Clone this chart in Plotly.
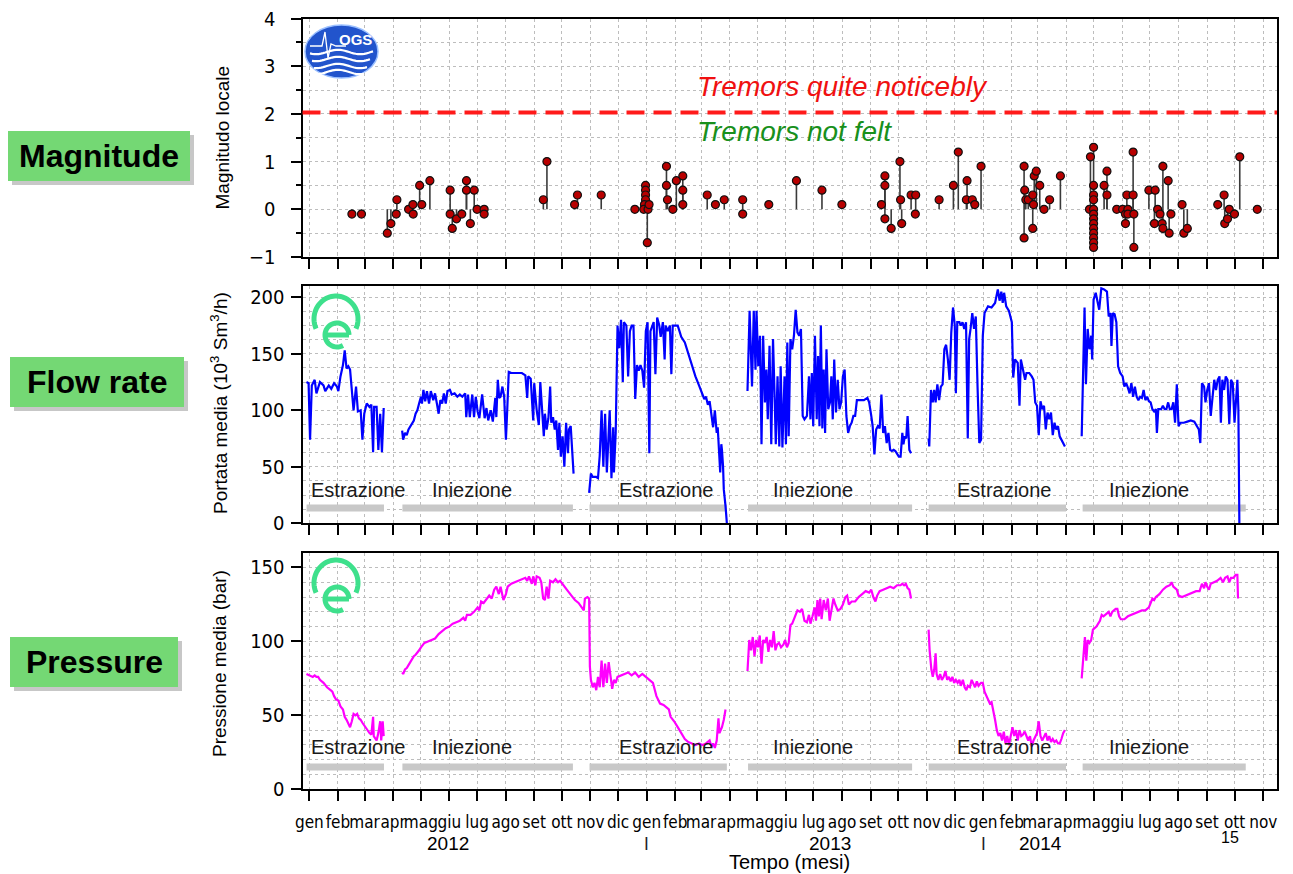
import numpy as np
import pandas as pd
import plotly.graph_objects as go

W, H = 1293, 874
BASE = pd.Timestamp("2012-01-01")
NARROW = "Liberation Sans Narrow, Arial Narrow, DejaVu Sans Condensed, sans-serif"
REG = "Liberation Sans, Arial, Helvetica, sans-serif"

# ---------------- axis labels ----------------
month_names = ["gen", "feb", "mar", "apr", "mag", "giu", "lug", "ago", "set", "ott", "nov", "dic"]
tick_dates = pd.date_range("2012-01-01", "2014-11-01", freq="MS")
tick_text = [month_names[d.month - 1] for d in tick_dates]
year_labels = ["2012", "2013", "2014"]
year_label_day = [150, 565, 793]
year_mark_dates = ["2013-01-01", "2014-01-01"]

# ---------------- magnitude events (days since 2012-01-01, ML) ----------------
mag_day = [46.2, 56.6, 84.6, 88.5, 94.3, 95.0, 107.7, 112.4, 112.7, 119.7, 122.0, 130.8,
           152.8, 152.8, 155.1, 159.7, 165.4, 170.5, 170.5, 174.7, 178.9, 182.0, 189.7, 189.7,
           253.9, 257.8, 287.8, 290.9, 316.7, 353.2, 364.8, 364.8, 364.8, 364.8, 363.6, 362.8,
           367.5, 368.6, 366.7, 387.5, 387.5, 388.6, 394.4, 398.2, 405.2, 405.2, 405.2, 431.7,
           440.6, 450.2, 470.2, 470.2, 498.5, 528.5, 556.2, 577.8, 620.7, 624.5, 624.5, 624.5,
           631.3, 640.8, 641.5, 642.7, 652.9, 657.9, 657.5, 683.3, 698.8, 704.1, 713.6, 712.9,
           719.3, 722.0, 728.8, 775.5, 776.2, 777.4, 775.5, 780.0, 784.9, 785.7, 786.5, 788.7,
           784.9, 792.5, 797.1, 803.2, 814.9, 846.4, 847.5,
           850.9, 850.9, 850.9, 850.9, 850.9, 850.9, 850.9, 850.9, 850.9, 850.9, 850.9, 850.9, 850.9,
           862.3, 865.4, 865.4, 876.0, 882.4, 885.5, 885.5, 887.0, 888.1, 888.1, 893.8, 893.8,
           894.6, 894.6, 910.9, 917.7, 916.9, 920.4, 923.0, 926.1, 925.3, 926.1, 931.8, 932.9,
           934.8, 946.9, 948.8, 952.6, 985.6, 992.5, 993.2, 996.2, 998.1, 1003.8, 1009.5, 1028.5]
mag_val = [-0.1, -0.1, -0.5, -0.3, -0.1, 0.2, 0.0, 0.1, -0.1, 0.5, 0.1, 0.6,
           0.4, -0.1, -0.4, -0.2, -0.1, 0.6, 0.4, -0.3, 0.4, 0.0, 0.0, -0.1,
           0.2, 1.0, 0.1, 0.3, 0.3, 0.0, 0.5, 0.4, 0.3, 0.2, 0.1, 0.0,
           0.0, 0.1, -0.7, 0.9, 0.5, 0.2, 0.0, 0.6, 0.7, 0.4, 0.1, 0.3,
           0.1, 0.2, 0.2, -0.1, 0.1, 0.6, 0.4, 0.1, 0.1, 0.7, 0.5, -0.2,
           -0.4, 1.0, 0.2, -0.3, 0.3, 0.3, -0.1, 0.2, 0.5, 1.2, 0.6, 0.2,
           0.2, 0.1, 0.9, 0.9, 0.4, 0.2, -0.6, 0.2, 0.3, 0.1, 0.7, 0.8,
           -0.4, 0.5, 0.0, 0.2, 0.7, 0.0, 1.1,
           1.3, 0.5, 0.3, 0.2, 0.0, -0.1, -0.2, -0.3, -0.4, -0.5, -0.6, -0.7, -0.8,
           0.5, 0.8, 0.3, 0.0, 0.0, -0.1, -0.3, 0.3, 0.0, -0.1, 1.2, 0.3,
           -0.8, -0.1, 0.4, 0.4, -0.3, 0.0, -0.1, 0.9, -0.3, -0.4, 0.6, -0.5,
           -0.1, 0.1, -0.5, -0.4, 0.1, 0.3, -0.3, -0.2, 0.0, -0.1, 1.1, 0.0]

# ---------------- flow rate (10^3 Sm3/h) ----------------
flow_a_day = [-3.1, -0.8, 0.8, 2.7, 5.8, 7.7, 11.5, 15.4, 17.3, 21.1, 23.8, 26.9, 30.0, 31.5, 33.8,
              36.5, 38.4, 40.4, 42.3, 44.2, 46.1, 48.0, 50.7, 52.7, 55.7, 57.6, 59.6, 62.3, 65.3,
              67.3, 69.2, 70.3, 73.0, 74.9, 76.9, 78.8, 80.7]
flow_a_val = [125, 124, 74, 122, 127, 115, 125, 122, 117, 122, 119, 124, 121, 117, 130, 140, 153, 137,
              139, 136, 118, 100, 121, 99, 100, 74, 97, 106, 103, 105, 63, 103, 103, 65, 97, 63, 102]

flow_b_day = [100.7, 101.8, 103.8, 105.7, 107.6, 109.5, 111.5, 113.4, 115.3, 117.2, 119.1, 121.1, 122.2,
              123.8, 125.7, 127.6, 129.9, 131.8, 134.5, 136.4, 138.4, 140.3, 142.2, 144.1, 146.0, 148.0,
              149.9, 152.6, 154.5, 157.6, 160.6, 163.3, 166.0, 169.1, 170.3, 172.2, 174.1, 176.8, 178.7,
              180.6, 182.6, 184.5, 187.5, 190.2, 192.2, 194.1, 196.8, 199.1, 201.8, 202.9, 204.5, 206.0,
              207.5, 209.5, 211.4, 213.3, 214.4, 216.4, 219.1, 224.8, 230.6, 234.4, 236.4, 237.5, 240.2,
              242.9, 244.0, 246.7, 249.0, 250.6, 252.9, 254.4, 255.6, 257.5, 259.4, 261.3, 262.5, 264.4,
              266.3, 267.9, 269.8, 271.3, 272.9, 274.8, 276.7, 278.6, 280.6, 281.7, 283.6, 285.2, 286.7]
flow_b_val = [82, 74, 80, 78, 83, 86, 89, 91, 97, 100, 106, 112, 106, 118, 108, 117, 106, 117, 109, 115,
              106, 97, 109, 106, 115, 106, 117, 118, 114, 115, 112, 114, 112, 115, 94, 114, 94, 114, 94, 112,
              99, 93, 114, 93, 102, 91, 100, 90, 111, 94, 127, 111, 112, 121, 112, 74, 94, 134, 133, 133,
              133, 131, 111, 130, 128, 91, 124, 100, 87, 125, 100, 77, 97, 83, 93, 121, 89, 94, 83, 91,
              65, 89, 59, 77, 50, 89, 62, 83, 86, 65, 44]

flow_c_day = [303.6, 305.5, 307.5, 311.3, 313.2, 315.1, 317.1, 319.0, 320.9, 322.8, 325.9, 327.8, 329.7,
              330.5, 332.4, 334.4, 336.3, 338.2, 340.1, 341.3, 344.0, 345.9, 347.8, 349.7, 351.7, 353.6,
              355.5, 357.4, 359.3, 361.3, 363.2, 365.1, 367.0, 368.9, 370.1, 372.0, 373.6, 375.5, 377.4,
              379.7, 381.2, 383.6, 385.5, 386.6, 388.9, 391.2, 392.8, 394.3, 396.6, 399.7, 401.6, 403.5,
              407.4, 411.2, 415.1, 418.9, 422.8, 426.6, 428.5, 430.4, 432.4, 434.3, 436.2, 438.1, 440.0,
              442.0, 443.1, 445.0, 445.8, 447.0, 447.7, 448.9, 449.7, 451.6, 453.5]
flow_c_val = [27, 44, 41, 41, 40, 60, 100, 50, 97, 45, 100, 40, 85, 45, 80, 175, 155, 180, 125, 178,
              175, 130, 170, 175, 175, 110, 140, 135, 140, 135, 120, 170, 178, 62, 170, 175, 178, 132, 182, 175,
              165, 178, 145, 175, 170, 175, 132, 175, 175, 175, 170, 165, 160, 150, 140, 130, 122, 115, 110, 112,
              105, 108, 98, 85, 100, 80, 85, 60, 45, 70, 65, 50, 30, 15, -5]

flow_d_day = [475.4, 477.7, 480.3, 482.2, 484.1, 485.2, 487.1, 489.0, 490.6, 492.4, 494.3, 495.9, 497.4,
              499.3, 501.2, 503.1, 505.0, 506.1, 508.0, 509.9, 511.4, 513.3, 515.6, 517.1, 518.6, 520.1,
              522.0, 523.9, 525.8, 527.7, 529.6, 531.5, 533.4, 535.3, 537.2, 539.9, 542.1, 543.7, 545.2,
              546.7, 548.6, 550.5, 552.0, 553.5, 555.0, 556.6, 558.1, 559.6, 561.1, 563.0, 564.9, 566.4,
              567.9, 569.5, 571.4, 573.3, 575.2, 577.0, 578.9, 580.8, 582.7, 584.6, 586.5, 588.4, 590.3,
              592.2, 594.1, 597.9, 601.7, 605.5, 607.4, 609.7, 611.2, 613.1, 615.0, 616.9, 618.8, 620.7,
              622.6, 624.5, 626.4, 628.3, 630.2, 632.1, 634.0, 635.8, 637.7, 639.6, 641.5, 643.4, 644.6,
              646.1, 647.6, 649.1, 651.0, 652.9]
flow_d_val = [117, 188, 121, 188, 136, 188, 139, 166, 70, 166, 107, 136, 92, 157, 70, 163, 107, 70, 130, 68,
              139, 67, 130, 70, 160, 77, 163, 154, 166, 189, 169, 166, 172, 95, 92, 95, 130, 92, 133, 86,
              166, 92, 148, 86, 175, 84, 136, 80, 154, 101, 107, 130, 92, 145, 98, 127, 101, 107, 130, 136,
              95, 80, 86, 89, 95, 95, 109, 109, 109, 111, 107, 95, 86, 61, 83, 86, 84, 114, 80, 86,
              71, 80, 65, 64, 65, 64, 62, 59, 59, 80, 70, 77, 75, 95, 65, 62]

flow_e_day = [671.9, 672.6, 674.5, 676.4, 678.0, 679.5, 681.4, 683.3, 685.2, 687.1, 689.0, 690.9, 692.8,
              694.7, 696.5, 698.4, 700.3, 701.5, 703.0, 705.3, 706.8, 708.7, 710.6, 712.5, 714.4, 715.9,
              717.4, 719.3, 721.2, 723.1, 725.0, 726.9, 728.8, 730.7, 732.6, 736.4, 740.2, 744.0, 747.0,
              748.9, 750.8, 752.3, 753.8, 756.1, 759.1, 762.2, 763.7, 765.6, 768.6, 770.5, 772.0, 774.3,
              776.6, 778.1, 781.1, 783.8, 785.7, 787.6, 789.5, 791.4, 793.3, 795.2, 797.1, 799.0, 800.9,
              802.8, 804.7, 806.6, 808.5, 810.4, 812.3, 814.1, 816.0, 817.9, 819.8]
flow_e_val = [75, 68, 118, 107, 118, 107, 123, 109, 121, 123, 154, 158, 145, 127, 169, 191, 175, 115, 178, 178,
              175, 178, 172, 178, 75, 163, 172, 186, 172, 183, 121, 71, 74, 166, 186, 192, 191, 195, 207, 197,
              205, 195, 204, 192, 188, 178, 129, 145, 142, 104, 145, 136, 127, 133, 133, 130, 127, 107, 104, 78,
              108, 101, 104, 83, 98, 92, 98, 78, 89, 83, 86, 77, 74, 71, 68]

flow_f_day = [838.0, 839.6, 841.1, 842.6, 844.5, 846.4, 848.3, 849.4, 850.9, 853.2, 855.1, 857.0, 859.3,
              862.3, 865.4, 867.3, 869.2, 870.3, 871.8, 873.7, 875.6, 877.5, 879.8, 882.4, 884.3, 886.2,
              888.1, 890.0, 891.9, 893.8, 895.7, 897.6, 899.5, 901.4, 903.3, 905.2, 907.1, 909.0, 910.9,
              912.8, 914.7, 916.6, 918.5, 919.6, 921.1, 924.2, 926.1, 928.0, 929.9, 931.8, 933.6, 935.5,
              937.4, 939.3, 941.2, 943.1, 945.0, 948.8, 952.6, 956.4, 960.2, 963.2, 965.1, 966.7, 968.5,
              970.8, 972.3, 974.2, 976.1, 978.0, 979.9, 981.8, 983.7, 985.6, 987.5, 989.0, 990.6, 992.5,
              994.3, 996.2, 998.1, 1000.0, 1001.9, 1003.8, 1005.7, 1006.9, 1008.0, 1009.1]
flow_f_val = [77, 151, 191, 123, 172, 154, 166, 145, 198, 204, 195, 189, 208, 207, 205, 183, 186, 157, 186, 185,
              178, 139, 133, 130, 121, 124, 120, 115, 124, 112, 121, 112, 109, 112, 111, 118, 109, 112, 108, 107,
              101, 99, 101, 80, 101, 101, 104, 101, 101, 107, 101, 101, 107, 89, 123, 86, 89, 89, 90, 91,
              90, 86, 83, 71, 124, 121, 107, 118, 124, 95, 112, 127, 118, 127, 130, 89, 127, 118, 130, 127,
              88, 127, 124, 89, 112, 127, 101, -5]

# ---------------- pressure (bar) ----------------
pres_a_day = [-3.1, 0.0, 3.8, 5.8, 7.7, 9.6, 11.5, 15.4, 19.2, 23.1, 25.0, 26.9, 28.8, 31.5, 33.8, 36.5,
              38.4, 40.4, 42.3, 44.2, 46.1, 48.0, 50.0, 51.9, 53.8, 55.7, 57.6, 59.6, 61.5, 63.4, 65.3,
              67.3, 69.2, 69.9, 71.9, 73.0, 74.9, 76.9, 78.0, 79.6, 80.7]
pres_a_val = [78, 77, 76, 77, 76, 76, 74, 72, 69, 67, 66, 63, 61, 60, 56, 54, 49, 47, 45, 42,
              46, 51, 50, 51, 48, 47, 45, 43, 42, 40, 38, 37, 49, 36, 34, 33, 38, 46, 33, 46, 36]

pres_bc_day = [100.7, 101.8, 103.8, 105.7, 107.6, 109.5, 111.5, 113.4, 115.3, 117.2, 119.1, 121.1, 124.9,
               128.7, 132.6, 136.4, 140.3, 144.1, 148.0, 151.8, 155.6, 159.5, 163.3, 167.2, 169.1, 171.0,
               174.9, 178.7, 182.6, 184.5, 186.4, 189.1, 192.2, 195.2, 197.9, 200.6, 202.9, 205.6, 207.5,
               210.6, 213.3, 215.2, 219.1, 222.9, 226.7, 230.6, 234.4, 236.4, 238.3, 241.4, 242.9, 245.2,
               246.7, 249.8, 251.7, 253.7, 255.6, 257.5, 259.4, 261.3, 264.4, 267.1, 269.8, 272.1, 274.8,
               276.7, 280.6, 284.4, 288.2, 292.1, 295.9, 297.8, 299.0, 301.7, 303.6, 304.4, 305.5, 307.5,
               309.4, 311.3, 313.2, 315.1, 317.1, 319.0, 320.9, 322.8, 324.8, 326.7, 328.6, 330.5, 332.4,
               334.4, 338.2, 342.0, 345.9, 349.7, 353.6, 357.4, 361.3, 365.1, 368.9, 372.8, 376.6, 380.5,
               384.3, 388.2, 390.1, 392.0, 395.8, 399.7, 403.5, 407.4, 411.2, 415.1, 418.9, 422.8, 426.6,
               430.4, 434.3, 436.2, 438.1, 440.0, 442.0, 443.9, 445.0, 447.7, 449.7, 451.6]
pres_bc_val = [79, 78, 81, 82, 84, 86, 89, 90, 91, 93, 94, 96, 99, 100, 101, 102, 105, 107, 109, 110,
               112, 113, 114, 116, 114, 118, 118, 120, 123, 121, 127, 126, 129, 131, 129, 135, 137, 132, 137, 128,
               132, 137, 139, 140, 141, 142, 143, 141, 144, 139, 144, 138, 144, 143, 140, 129, 128, 137, 129, 141,
               140, 142, 140, 141, 139, 137, 134, 131, 128, 126, 123, 121, 129, 130, 129, 83, 74, 69, 72, 67,
               76, 69, 87, 69, 85, 72, 86, 78, 68, 74, 72, 76, 77, 78, 79, 77, 79, 76, 78, 76,
               74, 72, 63, 58, 57, 55, 54, 49, 46, 42, 38, 34, 32, 31, 30, 31, 30, 31, 33, 29,
               31, 28, 33, 48, 38, 42, 47, 54]

pres_d_day = [475.4, 477.3, 479.2, 481.1, 483.0, 484.9, 486.8, 488.7, 490.6, 492.4, 494.3, 496.2, 498.1,
              500.0, 501.9, 503.8, 505.7, 507.6, 509.5, 511.8, 514.5, 516.3, 518.2, 520.1, 522.0, 523.9,
              527.0, 529.6, 532.3, 534.6, 537.2, 539.9, 542.1, 543.7, 545.9, 548.2, 549.7, 551.3, 552.8,
              554.3, 555.8, 558.1, 560.4, 562.6, 564.5, 566.4, 568.7, 570.6, 573.3, 576.3, 578.9, 581.6,
              583.5, 585.4, 588.4, 592.2, 596.0, 599.8, 603.6, 607.4, 609.7, 611.9, 614.2, 616.1, 618.8,
              622.6, 626.4, 630.2, 634.0, 637.7, 641.5, 643.4, 645.3, 647.2, 649.1, 651.0, 652.9]
pres_d_val = [80, 101, 94, 103, 90, 101, 96, 104, 85, 101, 99, 103, 93, 101, 96, 107, 94, 98, 99, 96,
              98, 101, 96, 99, 111, 112, 117, 121, 120, 122, 114, 113, 118, 112, 117, 123, 114, 128, 117, 129,
              115, 128, 121, 129, 114, 121, 129, 125, 121, 122, 125, 130, 131, 125, 127, 127, 130, 132, 134, 133,
              135, 130, 127, 131, 134, 135, 136, 137, 136, 138, 138, 139, 138, 139, 136, 135, 129]

pres_e_day = [671.9, 673.0, 674.9, 676.4, 678.0, 679.5, 680.6, 682.5, 684.4, 686.3, 688.2, 690.1, 692.0,
              693.9, 695.8, 697.7, 699.6, 701.5, 703.4, 705.3, 706.8, 709.1, 711.0, 712.9, 714.4, 716.7,
              718.6, 720.4, 722.3, 724.2, 726.1, 728.8, 730.7, 732.6, 734.5, 736.4, 738.3, 740.2, 742.1,
              744.0, 745.9, 747.8, 749.7, 751.6, 753.5, 755.3, 757.2, 759.1, 761.0, 762.9, 764.8, 766.7,
              768.6, 770.5, 772.4, 774.3, 776.2, 778.1, 780.0, 781.9, 783.8, 785.7, 787.6, 789.5, 791.4,
              793.3, 795.2, 797.1, 799.0, 800.9, 802.8, 804.7, 806.6, 808.5, 810.4, 812.3, 814.2, 816.0,
              817.9, 819.8]
pres_e_val = [108, 94, 81, 76, 81, 92, 78, 74, 78, 74, 76, 80, 74, 76, 73, 76, 72, 74, 72, 74,
              70, 74, 69, 67, 70, 69, 74, 72, 69, 73, 70, 72, 72, 66, 63, 60, 58, 59, 54, 47,
              40, 36, 38, 33, 39, 31, 36, 30, 36, 42, 36, 40, 33, 40, 36, 37, 39, 36, 33, 36,
              29, 33, 36, 38, 46, 36, 33, 36, 38, 33, 36, 32, 34, 32, 33, 31, 31, 34, 38, 40]

pres_f_day = [838.0, 839.6, 841.5, 843.0, 844.5, 846.4, 848.3, 850.2, 852.1, 854.0, 855.9, 857.8, 859.7,
              861.6, 863.5, 865.4, 867.3, 869.2, 871.1, 873.0, 874.9, 876.7, 878.6, 880.5, 884.3, 888.1,
              891.9, 895.7, 899.5, 903.3, 907.1, 910.9, 912.8, 914.7, 916.6, 918.5, 922.3, 926.1, 929.9,
              933.6, 935.5, 937.4, 941.2, 943.1, 946.9, 950.7, 954.5, 958.3, 962.1, 965.9, 968.5, 970.8,
              972.3, 974.2, 976.1, 978.0, 981.0, 984.9, 988.7, 991.3, 993.6, 996.2, 998.1, 1000.0, 1002.7,
              1005.0, 1006.9, 1007.6]
pres_f_val = [75, 90, 103, 87, 101, 99, 101, 108, 109, 110, 112, 114, 118, 117, 118, 119, 120, 117, 120, 121,
              122, 122, 117, 115, 115, 117, 118, 119, 120, 121, 121, 123, 126, 129, 128, 130, 132, 135, 137, 138,
              140, 137, 135, 131, 130, 131, 132, 133, 134, 134, 139, 136, 140, 137, 135, 139, 140, 141, 143, 140,
              143, 144, 140, 143, 143, 145, 145, 129]

# ---------------- phases ----------------
phase_names = ["Estrazione", "Iniezione", "Estrazione", "Iniezione", "Estrazione", "Iniezione"]
phase_start = [-3, 101, 304, 476, 672, 839]
phase_end = [81, 286, 453, 654, 821, 1016]
phase_label_day = [53, 176, 388, 547, 754, 911]


def to_dates(days):
    return [BASE + pd.Timedelta(days=float(d)) for d in days]


def px(x):
    return x / W


def py(y):
    return 1 - y / H


fig = go.Figure()

# --- magnitude panel ---
stem_x, stem_y = [], []
for d, v in zip(mag_day, mag_val):
    t = BASE + pd.Timedelta(days=float(d))
    stem_x += [t, t, None]
    stem_y += [0, v, None]
fig.add_trace(go.Scatter(x=stem_x, y=stem_y, mode="lines", line=dict(color="#3a3a3a", width=1.6),
                         xaxis="x3", yaxis="y3", hoverinfo="skip"))
fig.add_trace(go.Scatter(x=to_dates(mag_day), y=mag_val, mode="markers",
                         marker=dict(size=8, color="#b80000", line=dict(color="#111111", width=1.2)),
                         xaxis="x3", yaxis="y3"))

# --- flow panel ---
for dd, vv in [(flow_a_day, flow_a_val), (flow_b_day, flow_b_val), (flow_c_day, flow_c_val),
               (flow_d_day, flow_d_val), (flow_e_day, flow_e_val), (flow_f_day, flow_f_val)]:
    fig.add_trace(go.Scatter(x=to_dates(dd), y=vv, mode="lines", line=dict(color="#0000ff", width=2.2),
                             xaxis="x2", yaxis="y2"))

# --- pressure panel ---
for dd, vv in [(pres_a_day, pres_a_val), (pres_bc_day, pres_bc_val), (pres_d_day, pres_d_val),
               (pres_e_day, pres_e_val), (pres_f_day, pres_f_val)]:
    fig.add_trace(go.Scatter(x=to_dates(dd), y=vv, mode="lines", line=dict(color="#ff00ff", width=2.2),
                             xaxis="x", yaxis="y"))

x_range = [BASE + pd.Timedelta(days=-7.4), BASE + pd.Timedelta(days=1049.9)]
xdom = [px(302.5), px(1277)]
GRID = "#bdbdbd"

xcommon = dict(type="date", range=x_range, domain=xdom, tickmode="array", tickvals=list(tick_dates),
               ticks="outside", ticklen=10, tickwidth=1.5, tickcolor="black", automargin=False,
               showgrid=True, gridcolor=GRID, griddash="dot", gridwidth=1,
               showline=True, linecolor="black", linewidth=2, mirror=True, zeroline=False)
ycommon = dict(ticks="outside", ticklen=10, tickwidth=1.5, tickcolor="black", automargin=False,
               showgrid=True, gridcolor=GRID, griddash="dot", gridwidth=1,
               showline=True, linecolor="black", linewidth=2, mirror=True, zeroline=False,
               tickfont=dict(family=NARROW, size=20, color="black"))

fig.update_layout(
    width=W, height=H, margin=dict(l=0, r=0, t=0, b=0), autosize=False,
    paper_bgcolor="white", plot_bgcolor="white", showlegend=False,
    xaxis=dict(**xcommon, anchor="y", showticklabels=True, ticktext=tick_text, tickangle=0,
               tickfont=dict(family=NARROW, size=17, color="black"), ticklabelstandoff=6),
    xaxis2=dict(**xcommon, anchor="y2", showticklabels=False),
    xaxis3=dict(**xcommon, anchor="y3", showticklabels=False),
    yaxis=dict(**ycommon, anchor="x", domain=[py(789.3), py(552.7)], range=[0, 160],
               tickvals=[0, 50, 100, 150], ticklabelstandoff=2,
               minor=dict(tick0=0, dtick=10, showgrid=True, gridcolor=GRID, griddash="dot", ticks="")),
    yaxis2=dict(**ycommon, anchor="x2", domain=[py(523.3), py(286)], range=[0, 210],
                tickvals=[0, 50, 100, 150, 200], ticklabelstandoff=2,
                minor=dict(tick0=0, dtick=12.5, showgrid=True, gridcolor=GRID, griddash="dot", ticks="")),
    yaxis3=dict(**ycommon, anchor="x3", domain=[py(257), py(18.5)], range=[-1, 4],
                tickvals=[-1, 0, 1, 2, 3, 4], ticklabelstandoff=11,
                minor=dict(tick0=0, dtick=0.5, showgrid=True, gridcolor=GRID, griddash="dot",
                           ticks="outside", ticklen=5, tickcolor="black")),
)

shapes = []
annotations = []


def note(text, x, y, size, family=REG, color="black", xref="paper", yref="paper", xanchor="center",
         angle=0):
    annotations.append(dict(text=text, xref=xref, yref=yref, x=x, y=y, xanchor=xanchor, yanchor="middle",
                            showarrow=False, textangle=angle, font=dict(family=family, size=size, color=color)))


# threshold line
shapes.append(dict(type="line", xref="x3 domain", yref="y3", x0=0, x1=1, y0=2.03, y1=2.03,
                   line=dict(color="#ff1a1a", width=4, dash="18px,9px")))
note("<i>Tremors quite noticebly</i>", px(695), py(86), 28, color="#f01010", xanchor="left")
note("<i>Tremors not felt</i>", px(695), py(131), 28, color="#18901c", xanchor="left")

# phase bars + labels
for name, s, e, lab in zip(phase_names, phase_start, phase_end, phase_label_day):
    for xr, yr, ybar, ylab in [("x2", "y2", 13.5, 29.5), ("x", "y", 15, 28.6)]:
        shapes.append(dict(type="line", xref=xr, yref=yr, layer="between",
                           x0=BASE + pd.Timedelta(days=s), x1=BASE + pd.Timedelta(days=e),
                           y0=ybar, y1=ybar, line=dict(color="#c8c8c8", width=7)))
        note(name, BASE + pd.Timedelta(days=lab), ylab, 20, color="#1a1a1a", xref=xr, yref=yr)

# y-axis titles
note("Magnitudo locale", px(222), py(137.5), 19, angle=-90)
note("Portata media (10<sup>3</sup> Sm<sup>3</sup>/h)", px(219), py(403), 19, angle=-90)
note("Pressione media (bar)", px(219), py(664), 19, angle=-90)

# years, separators, axis title
for lab, d in zip(year_labels, year_label_day):
    note(lab, BASE + pd.Timedelta(days=d), py(843), 19, xref="x")
for d in year_mark_dates:
    note("I", pd.Timestamp(d), py(843), 18, family=NARROW, color="#222", xref="x")
note("Tempo (mesi)", px(789), py(862), 20)
note("15", px(1230), py(837), 16)

# green side labels
for text, x0, x1, y0, y1 in [("Magnitude", 8, 190, 131, 181), ("Flow rate", 10, 184, 357, 407),
                             ("Pressure", 10, 178, 637, 687)]:
    shapes.append(dict(type="rect", xref="paper", yref="paper", x0=px(x0 + 4), x1=px(x1 + 4),
                       y0=py(y1 + 4), y1=py(y0 + 4), fillcolor="rgba(0,0,0,0.22)", line=dict(width=0)))
    shapes.append(dict(type="rect", xref="paper", yref="paper", x0=px(x0), x1=px(x1),
                       y0=py(y1), y1=py(y0), fillcolor="#74d874", line=dict(width=0)))
    note("<b>" + text + "</b>", px((x0 + x1) / 2), py((y0 + y1) / 2), 32)


def path_from(points):
    return "M " + " L ".join(f"{px(x):.5f},{py(y):.5f}" for x, y in points)


# OGS logo
shapes.append(dict(type="circle", xref="paper", yref="paper", x0=px(305), x1=px(378), y0=py(78), y1=py(25),
                   fillcolor="#2254cc", line=dict(color="#9cc0ff", width=1.5)))
for k, yy in enumerate([52, 59, 66, 72]):
    xs = np.linspace(310 + k * 2, 373 - k * 3, 30)
    pts = [(x, yy + 2.2 * np.sin((x - 305) / 7.0)) for x in xs]
    shapes.append(dict(type="path", xref="paper", yref="paper", path=path_from(pts),
                       line=dict(color="white", width=2.2)))
shapes.append(dict(type="path", xref="paper", yref="paper",
                   path=path_from([(310, 46), (322, 46), (325, 32), (328, 58), (331, 44), (336, 46), (346, 46)]),
                   line=dict(color="white", width=1.3)))
note("<b>OGS</b>", px(355), py(40), 15, color="white")


# green swirl logos
def swirl(dy):
    out = []
    cx, cy = 336, 319 + dy
    th = np.radians(np.linspace(205, -25, 50))
    out.append([(cx + 22 * np.cos(t), cy - 23 * np.sin(t)) for t in th])
    ecx, ecy = 337, 335 + dy
    out.append([(ecx - 12, ecy), (ecx + 12, ecy)])
    th2 = np.radians(np.linspace(0, 300, 40))
    out.append([(ecx + 12 * np.cos(t), ecy - 12 * np.sin(t)) for t in th2])
    return out


for dy in [0, 264]:
    for pts in swirl(dy):
        shapes.append(dict(type="path", xref="paper", yref="paper", path=path_from(pts),
                           line=dict(color="#3ee08c", width=5)))

fig.update_layout(shapes=shapes, annotations=annotations)
fig.write_html("out.html")
